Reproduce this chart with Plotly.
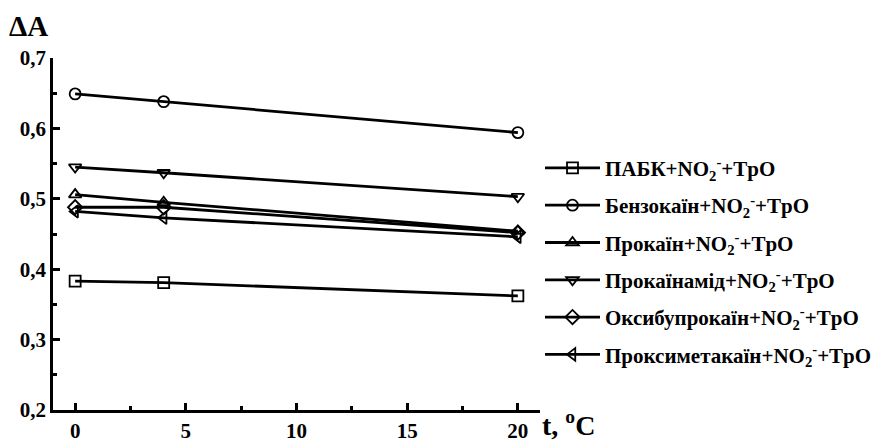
import plotly.graph_objects as go

temps = [0, 4, 20]
pabk = [0.383, 0.381, 0.362]
benzokain = [0.649, 0.638, 0.594]
prokain = [0.506, 0.495, 0.454]
prokainamid = [0.545, 0.537, 0.503]
oksybuprokain = [0.488, 0.488, 0.452]
proksymetakain = [0.482, 0.473, 0.446]

NO2 = "+NO<sub>2</sub><sup>-</sup>+TpO"
series = [
    ("ПАБК" + NO2, pabk, "square-open"),
    ("Бензокаїн" + NO2, benzokain, "circle-open"),
    ("Прокаїн" + NO2, prokain, "triangle-up-open"),
    ("Прокаїнамід" + NO2, prokainamid, "triangle-down-open"),
    ("Оксибупрокаїн" + NO2, oksybuprokain, "diamond-open"),
    ("Проксиметакаїн" + NO2, proksymetakain, "triangle-left-open"),
]

font = "'Liberation Serif', 'Times New Roman', Tinos, Times, serif"
fig = go.Figure()
for name, vals, sym in series:
    fig.add_trace(go.Scatter(
        x=temps, y=vals, name="<b>" + name + "</b>", legendgroup=name,
        mode="lines+markers",
        line=dict(color="black", width=2.8),
        marker=dict(symbol=sym, size=11, color="black",
                    line=dict(color="black", width=1.8)),
    ))

axis_common = dict(
    showline=True, linecolor="black", linewidth=2.8, mirror=False,
    ticks="inside", tickcolor="black", tickwidth=2.8, ticklen=7,
    showgrid=False, zeroline=False, automargin=False,
    tickfont=dict(family=font, size=21, color="black"),
)
fig.update_xaxes(range=[-1, 21], tickvals=[0, 5, 10, 15, 20],
                 ticktext=["<b>0</b>", "<b>5</b>", "<b>10</b>", "<b>15</b>", "<b>20</b>"],
                 minor=dict(ticks="inside", tickvals=[2.5, 7.5, 12.5, 17.5],
                            ticklen=4, tickwidth=2.8, tickcolor="black"),
                 **axis_common)
yticks = [0.2, 0.3, 0.4, 0.5, 0.6, 0.7]
fig.update_yaxes(range=[0.2, 0.7], tickvals=yticks,
                 ticktext=["<b>" + f"{v:.1f}".replace(".", ",") + "</b>" for v in yticks],
                 minor=dict(ticks="inside", tickvals=[0.25, 0.35, 0.45, 0.55, 0.65],
                            ticklen=4, tickwidth=2.8, tickcolor="black"),
                 **axis_common)

fig.add_annotation(x=0, y=1, xref="paper", yref="paper", xshift=-46, yshift=14,
                   text="<b>ΔA</b>", showarrow=False, xanchor="left", yanchor="bottom",
                   font=dict(family=font, size=29, color="black"))
fig.add_annotation(x=1, y=0, xref="paper", yref="paper", xshift=0, yshift=-33,
                   text="<b>t, <sup>o</sup>C</b>", showarrow=False, xanchor="left", yanchor="bottom",
                   font=dict(family=font, size=28, color="black"))

fig.update_layout(
    width=887, height=434,
    margin=dict(l=45, r=355, t=50, b=32),
    paper_bgcolor="white", plot_bgcolor="white",
    separators=", ",
    showlegend=True,
    legend=dict(x=1.0, y=0.745, xanchor="left", yanchor="top",
                font=dict(family=font, size=21, color="black"),
                itemwidth=55, tracegroupgap=7, bgcolor="rgba(0,0,0,0)"),
)
fig.write_html("out.html")
